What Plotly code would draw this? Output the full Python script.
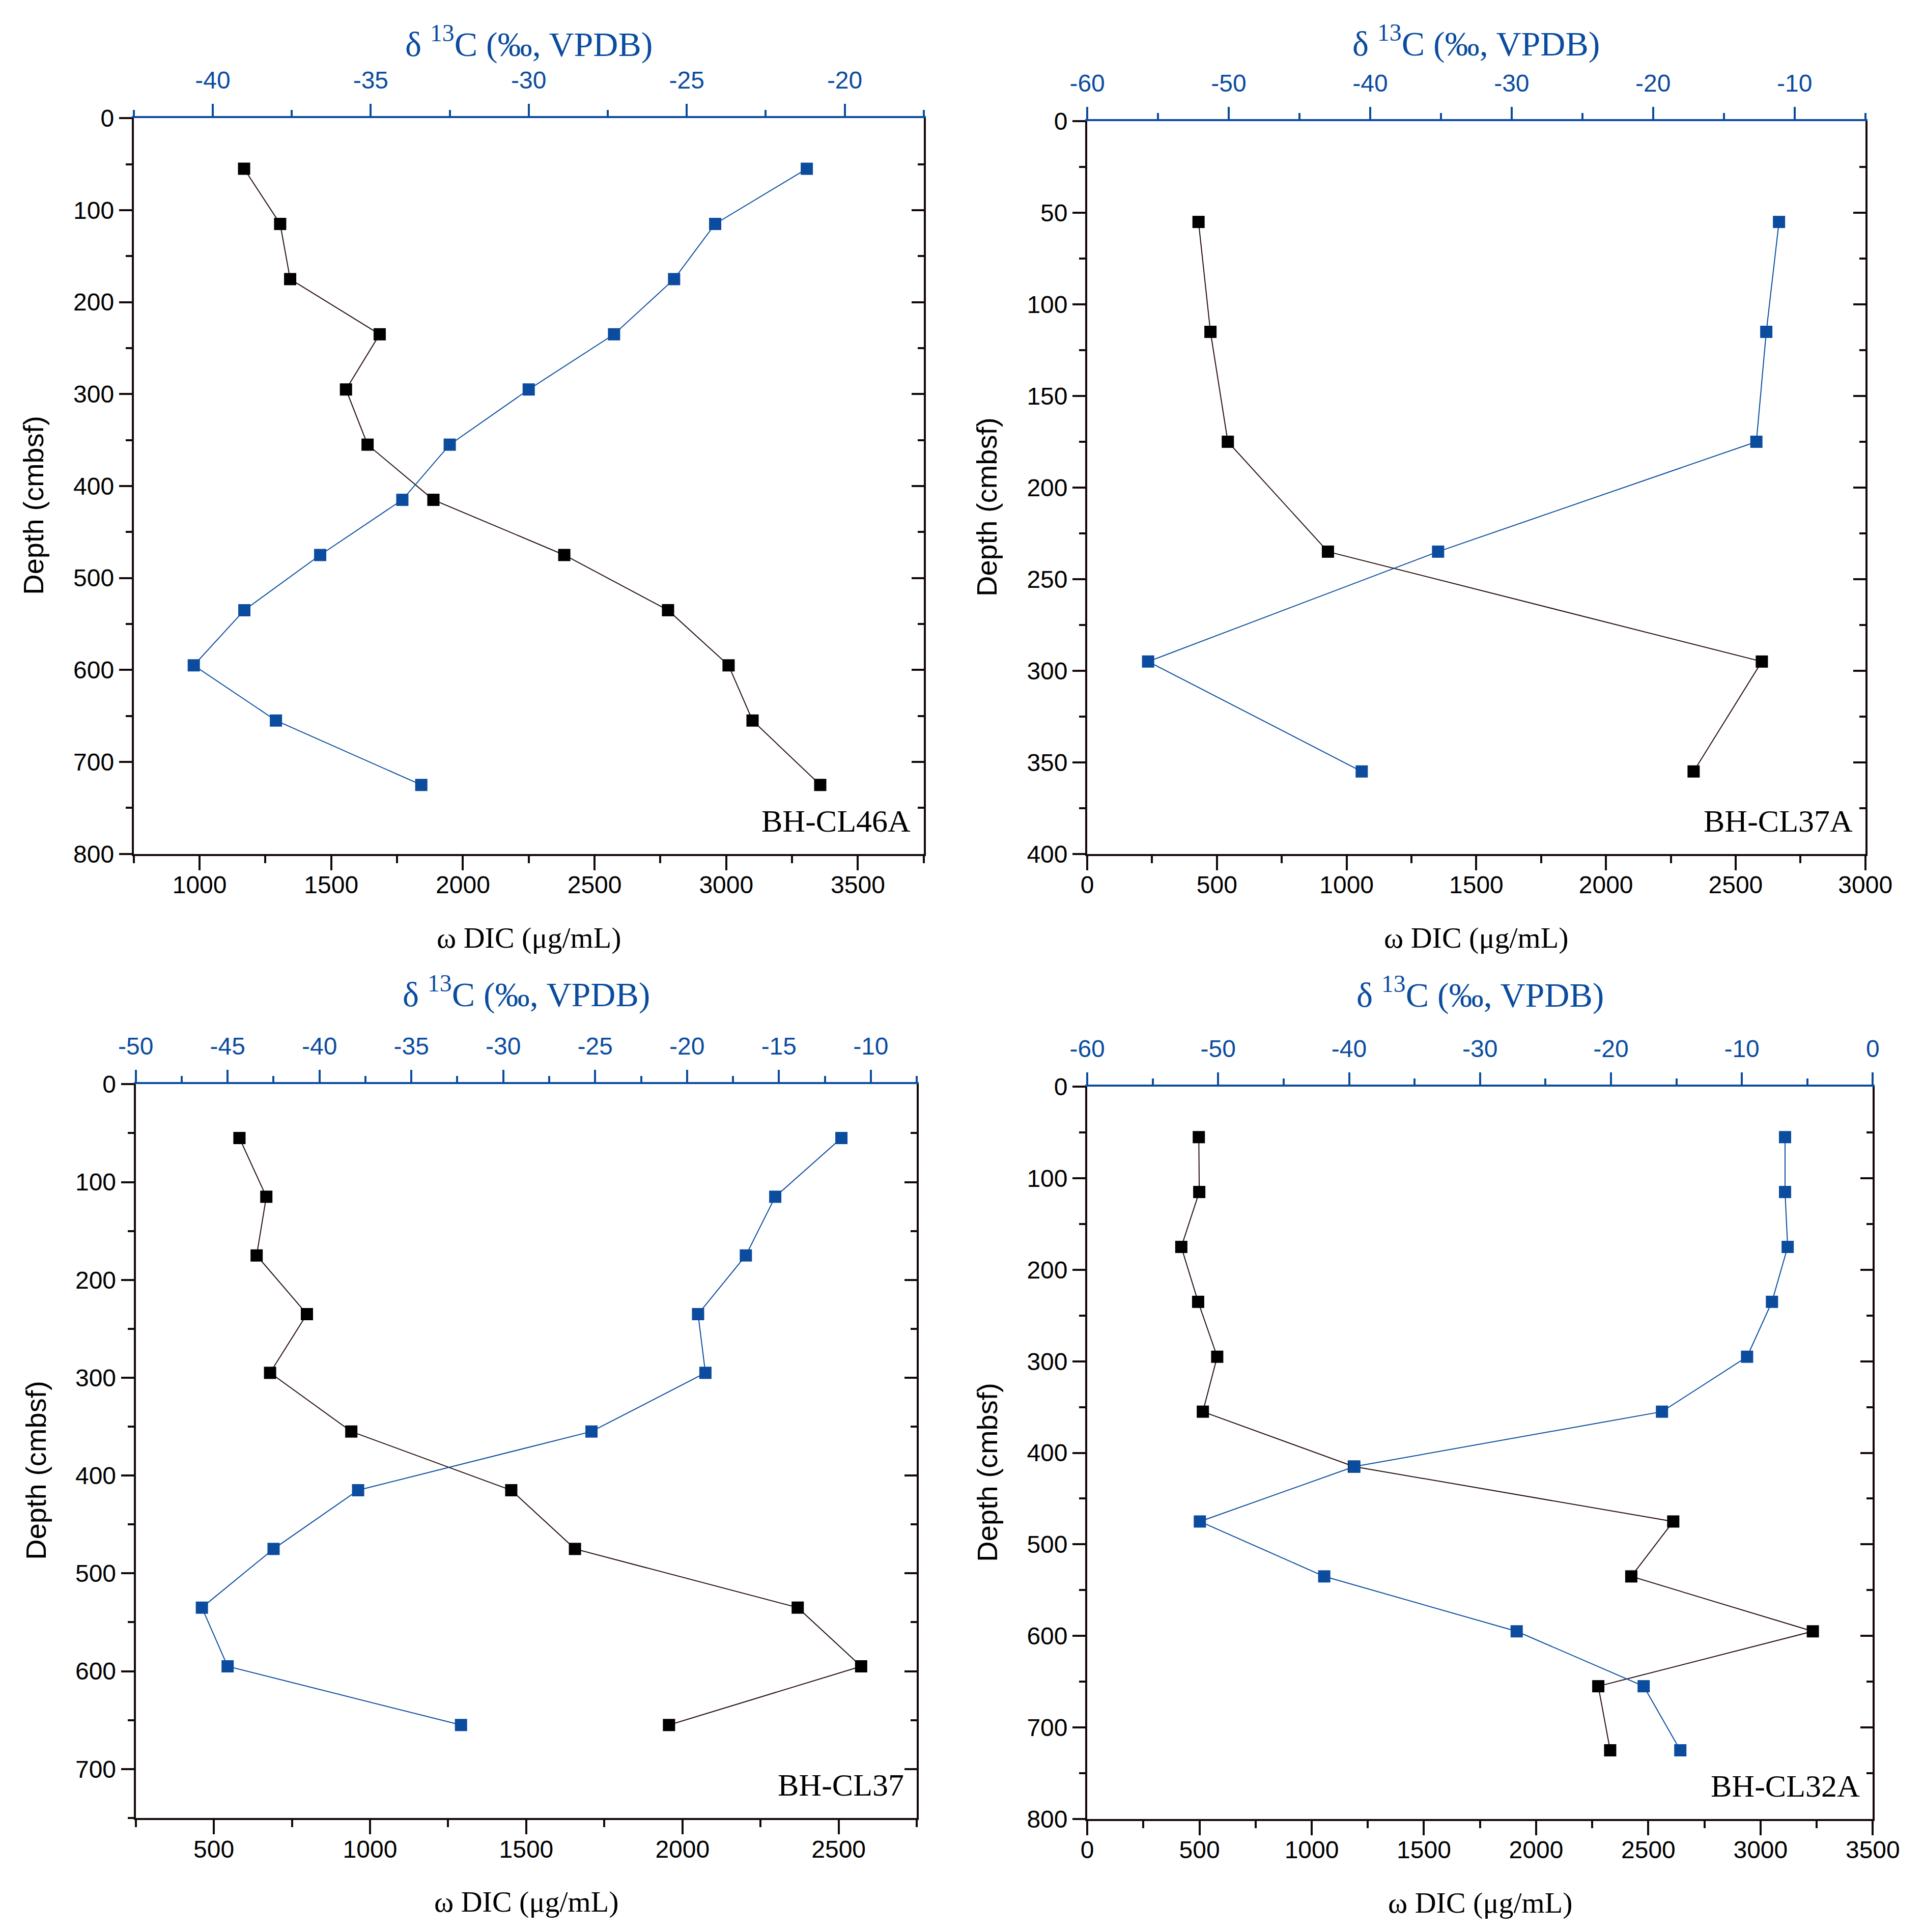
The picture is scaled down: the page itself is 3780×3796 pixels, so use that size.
import plotly.graph_objects as go

# ---- data ----
stations = ["BH-CL46A", "BH-CL37A", "BH-CL37", "BH-CL32A"]

depth_46a = [55, 115, 175, 235, 295, 355, 415, 475, 535, 595, 655, 725]
dic_46a = [1169, 1306, 1344, 1684, 1556, 1638, 1888, 2385, 2779, 3009, 3100, 3357]
d13c_46a = [-21.2, -24.1, -25.4, -27.3, -30.0, -32.5, -34.0, -36.6, -39.0, -40.6, -38.0, -33.4]

depth_37a = [55, 115, 175, 235, 295, 355]
dic_37a = [429, 475, 542, 928, 2601, 2338]
d13c_37a = [-11.1, -12.0, -12.7, -35.2, -55.7, -40.6]

depth_37 = [55, 115, 175, 235, 295, 355, 415, 475, 535, 595, 655]
dic_37 = [582, 668, 637, 798, 680, 940, 1452, 1656, 2369, 2572, 1957]
d13c_37 = [-11.6, -15.2, -16.8, -19.4, -19.0, -25.2, -37.9, -42.5, -46.4, -45.0, -32.3]

depth_32a = [55, 115, 175, 235, 295, 355, 415, 475, 535, 595, 655, 725]
dic_32a = [497, 499, 419, 494, 579, 515, 1188, 2611, 2424, 3233, 2277, 2330]
d13c_32a = [-6.7, -6.7, -6.5, -7.7, -9.6, -16.1, -39.6, -51.4, -41.9, -27.2, -17.5, -14.7]

# top-axis tick labels (plain hyphen minus, as in the original)
d13c_ticks_46a = [-40, -35, -30, -25, -20]
d13c_ticks_37a = [-60, -50, -40, -30, -20, -10]
d13c_ticks_37 = [-50, -45, -40, -35, -30, -25, -20, -15, -10]
d13c_ticks_32a = [-60, -50, -40, -30, -20, -10, 0]

W, H = 3780, 3796
BLUE = "#0b4c9f"
BLK = "#140808"
SANS = "Liberation Sans"
SERIF = "Liberation Serif"

# panel settings: pixel box (left, top, right, bottom), axis ranges, tick steps
panels = [
    dict(depth=depth_46a, dic=dic_46a, d13c=d13c_46a, top_ticks=d13c_ticks_46a,
         box=(225, 201, 1814, 1667), xr=[750, 3750], x0=1000, tr=[-42.5, -17.5], tminor=2.5,
         yr=[800, 0], ydt=100, title_up=150),
    dict(depth=depth_37a, dic=dic_37a, d13c=d13c_37a, top_ticks=d13c_ticks_37a,
         box=(2143, 207, 3708, 1667), xr=[0, 3000], x0=0, tr=[-60, -5], tminor=5,
         yr=[400, 0], ydt=50, title_up=157),
    dict(depth=depth_37, dic=dic_37, d13c=d13c_37, top_ticks=d13c_ticks_37,
         box=(229, 2126, 1800, 3588), xr=[250, 2750], x0=500, tr=[-50, -7.5], tminor=2.5,
         yr=[750, 0], ydt=100, title_up=181),
    dict(depth=depth_32a, dic=dic_32a, d13c=d13c_32a, top_ticks=d13c_ticks_32a,
         box=(2143, 2131, 3723, 3590), xr=[0, 3500], x0=0, tr=[-60, 0], tminor=5,
         yr=[800, 0], ydt=100, title_up=185),
]


def ax(letter, n):
    # plotly names: x, x2, x3 ... / xaxis, xaxis2 ...
    return (letter if n == 1 else f"{letter}{n}"), (f"{letter}axis" if n == 1 else f"{letter}axis{n}")


fig = go.Figure()
layout = {}
annotations = []

for i, p in enumerate(panels):
    b, t = 2 * i + 1, 2 * i + 2
    xb, xb_key = ax("x", b)
    xt, xt_key = ax("x", t)
    yl, yl_key = ax("y", b)
    yr_, yr_key = ax("y", t)
    left, top, right, bottom = p["box"]
    xdom = [left / W, right / W]
    ydom = [1 - bottom / H, 1 - top / H]

    fig.add_trace(go.Scatter(
        x=p["dic"], y=p["depth"], xaxis=xb, yaxis=yl, mode="lines+markers",
        line=dict(color="#2a1010", width=2),
        marker=dict(symbol="square", size=24, color="#000000"),
        showlegend=False))
    fig.add_trace(go.Scatter(
        x=p["d13c"], y=p["depth"], xaxis=xt, yaxis=yr_, mode="lines+markers",
        line=dict(color=BLUE, width=2),
        marker=dict(symbol="square", size=24, color=BLUE),
        showlegend=False))

    common = dict(showgrid=False, zeroline=False, showline=True, linewidth=4)
    # bottom: DIC
    layout[xb_key] = dict(
        common, domain=xdom, anchor=yl, side="bottom", range=p["xr"],
        tickmode="linear", tick0=p["x0"], dtick=500,
        ticks="outside", ticklen=28, tickwidth=4, tickcolor=BLK, linecolor=BLK,
        minor=dict(tickmode="linear", tick0=p["xr"][0], dtick=250,
                   ticks="outside", ticklen=14, tickwidth=4, tickcolor=BLK),
        tickfont=dict(family=SANS, size=48, color="#000000"), ticklabelstandoff=-12)
    # top: delta 13C
    layout[xt_key] = dict(
        common, overlaying=xb, anchor=yr_, side="top", range=p["tr"],
        tickmode="array", tickvals=p["top_ticks"],
        ticktext=[f"{v:g}" for v in p["top_ticks"]],
        ticks="outside", ticklen=24, tickwidth=4, tickcolor=BLUE, linecolor=BLUE,
        minor=dict(tickmode="linear", tick0=p["tr"][0], dtick=p["tminor"],
                   ticks="outside", ticklen=12, tickwidth=4, tickcolor=BLUE),
        tickfont=dict(family=SANS, size=48, color=BLUE), ticklabelstandoff=11)
    # left: depth
    layout[yl_key] = dict(
        common, domain=ydom, anchor=xb, side="left", range=p["yr"],
        tickmode="linear", tick0=0, dtick=p["ydt"],
        ticks="outside", ticklen=25, tickwidth=4, tickcolor=BLK, linecolor=BLK,
        minor=dict(tickmode="linear", tick0=0, dtick=p["ydt"] / 2,
                   ticks="outside", ticklen=12, tickwidth=4, tickcolor=BLK),
        tickfont=dict(family=SANS, size=48, color="#000000"), ticklabelstandoff=0)
    # right: mirror of depth, ticks inside, no labels
    layout[yr_key] = dict(
        common, overlaying=yl, anchor=xt, side="right", range=p["yr"],
        tickmode="linear", tick0=0, dtick=p["ydt"], showticklabels=False,
        ticks="inside", ticklen=24, tickwidth=4, tickcolor=BLK, linecolor=BLK,
        minor=dict(tickmode="linear", tick0=0, dtick=p["ydt"] / 2,
                   ticks="inside", ticklen=12, tickwidth=4, tickcolor=BLK))

    dref_x, dref_y = f"{xb} domain", f"{yl} domain"
    annotations += [
        dict(text=stations[i], xref=dref_x, yref=dref_y, x=0.985, y=0.045,
             xanchor="right", yanchor="middle", showarrow=False,
             font=dict(family=SERIF, size=62, color="#000000")),
        dict(text="ω DIC (μg/mL)", xref=dref_x, yref=dref_y, x=0.5, y=0,
             yshift=-165, xanchor="center", yanchor="middle", showarrow=False,
             font=dict(family=SERIF, size=58, color="#000000")),
        dict(text="δ <sup>13</sup>C (‰, VPDB)", xref=dref_x, yref=dref_y, x=0.5, y=1,
             yshift=p["title_up"], xanchor="center", yanchor="middle", showarrow=False,
             font=dict(family=SERIF, size=68, color=BLUE)),
        dict(text="Depth (cmbsf)", xref=dref_x, yref=dref_y, x=0, y=0.5,
             xshift=-197, yshift=-38, textangle=-90, xanchor="center", yanchor="middle",
             showarrow=False, font=dict(family=SANS, size=56, color="#000000")),
    ]

fig.update_layout(
    **layout,
    annotations=annotations,
    width=W, height=H, autosize=False,
    margin=dict(l=0, r=0, t=0, b=0),
    paper_bgcolor="white", plot_bgcolor="white",
    showlegend=False,
)

fig.write_html("out.html")
